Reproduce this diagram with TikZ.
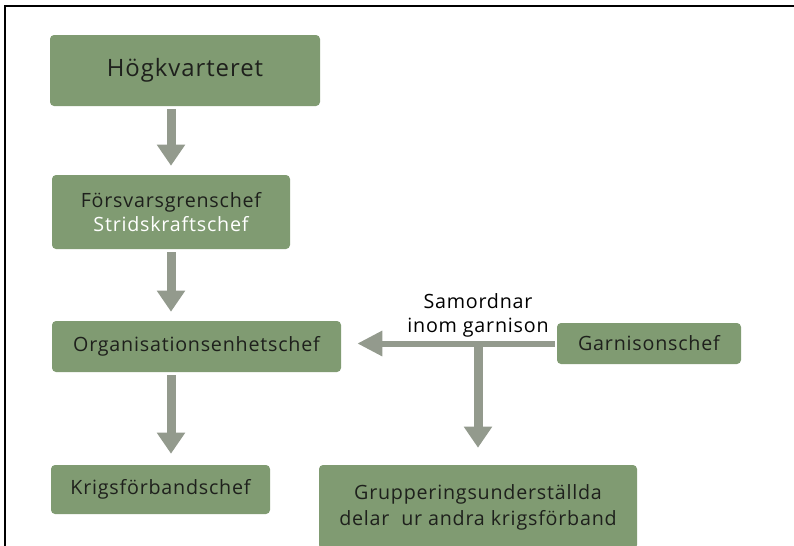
\documentclass[tikz,border=0pt]{standalone}
\usepackage{fontspec}
\setmainfont{Open Sans}[LetterSpace=4]
\usetikzlibrary{arrows.meta,positioning}
\definecolor{boxgreen}{RGB}{128,155,114}
\definecolor{pilgrey}{RGB}{147,154,141}
\definecolor{textdark}{RGB}{30,32,28}
\tikzset{
  box/.style={fill=boxgreen, rounded corners=0.1cm, text=textdark, align=center,
    inner sep=0pt, font=\fontsize{14}{17}\selectfont},
  pil/.style={draw=pilgrey, line width=0.225cm,
    -{Triangle[width=0.675cm,length=0.525cm]}},
}
\begin{document}
\begin{tikzpicture}
      \useasboundingbox (0,0) rectangle (19.85,-13.65);
      % ram
      \draw[line width=1.5pt] (0.125,-13.65) -- (0.125,-0.15) -- (19.85,-0.15);
      \draw
        (4.625,-1.7625) node[box, minimum width=6.75cm, minimum height=1.775cm,
          font=\fontsize{17}{20}\selectfont] (hkv) {Högkvarteret}
        (4.275,-5.3) node[box, minimum width=5.95cm, minimum height=1.85cm]
          (fgc) {Försvarsgrenschef\\{\color{white}Stridskraftschef}}
        (4.9125,-8.6625) node[box, minimum width=7.225cm, minimum height=1.275cm]
          (oec) {Organisationsenhetschef}
        (4.0125,-12.2375) node[box, minimum width=5.475cm, minimum height=1.225cm]
          (kfc) {Krigsförbandschef}
        (16.225,-8.5875) node[box, minimum width=4.6cm, minimum height=1.025cm]
          (gc) {Garnisonschef}
        (11.95,-12.675) node[box, minimum width=7.95cm, minimum height=2.1cm]
          (grp) {Grupperingsunderställda\\[1.5pt]delar~ ur andra krigsförband};
      \coordinate (kn) at (grp.north |- gc.west);
      \node[above=0.14cm of kn, align=center, inner sep=0pt,
        font=\fontsize{14}{17}\selectfont] (sam) {Samordnar\\inom garnison};
      \begin{scope}[pil]
        \draw[shorten <=0.075cm, shorten >=0.225cm] (hkv.south -| fgc) to (fgc.north);
        \draw[shorten <=0.075cm, shorten >=0.225cm] (fgc.south) to (oec.north -| fgc);
        \draw[shorten <=0.075cm, shorten >=0.275cm] (oec.south -| fgc) to (kfc.north -| fgc);
        \draw[line width=0.15cm, shorten <=0.05cm, shorten >=0.4cm,
          -{Triangle[width=0.6cm,length=0.625cm]}] (gc.west) to (oec.east |- gc.west);
        \draw[shorten >=0.425cm] (kn) to (grp.north);
      \end{scope}
    \end{tikzpicture}
\end{document}
